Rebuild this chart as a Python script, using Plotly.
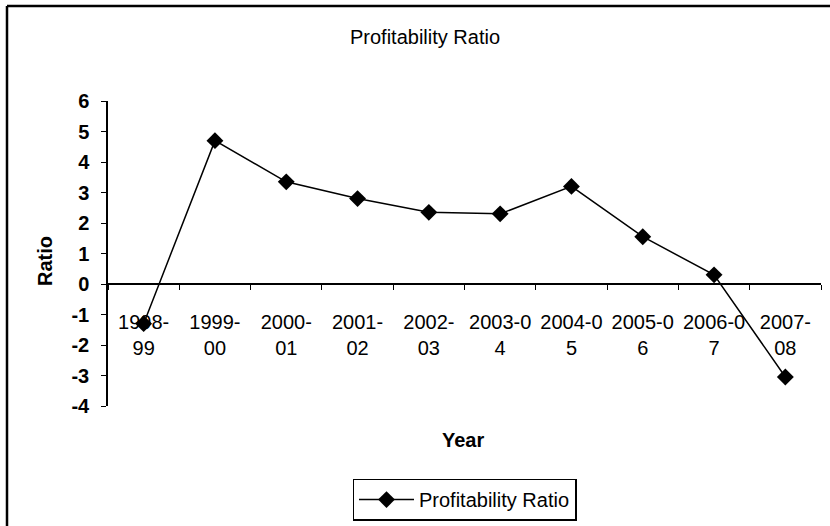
import plotly.graph_objects as go

# Financial years and the profitability ratio for each
years = ["1998-<br>99", "1999-<br>00", "2000-<br>01", "2001-<br>02", "2002-<br>03",
         "2003-0<br>4", "2004-0<br>5", "2005-0<br>6", "2006-0<br>7", "2007-<br>08"]
ratio = [-1.3, 4.7, 3.35, 2.8, 2.35, 2.3, 3.2, 1.55, 0.3, -3.05]
y_ticks = [-4, -3, -2, -1, 0, 1, 2, 3, 4, 5, 6]
y_tick_text = ["-4", "-3", "-2", "-1", "0", "1", "2", "3", "4", "5", "6"]

FONT = "Arial, Liberation Sans, sans-serif"
y_min, y_max = -4, 6

fig = go.Figure()
fig.add_trace(go.Scatter(
    x=years, y=ratio, mode="lines+markers", name="Profitability Ratio",
    line=dict(color="black", width=1.5),
    marker=dict(symbol="diamond", size=13, color="black"),
))

fig.update_layout(
    width=830, height=526,
    margin=dict(l=108, r=9, t=101, b=120, autoexpand=False),
    paper_bgcolor="white", plot_bgcolor="white",
    font=dict(family=FONT, color="black", size=20),
    title=dict(text="Profitability Ratio", x=0.4446, xref="paper", y=1 - 37 / 526,
               yref="container", xanchor="center", yanchor="middle",
               font=dict(family=FONT, size=20, color="black")),
    showlegend=True,
    legend=dict(x=0.5, xanchor="center", y=-0.238, yanchor="top",
                bordercolor="black", borderwidth=1.5, bgcolor="white",
                itemwidth=55,
                font=dict(family=FONT, size=20, color="black")),
    xaxis=dict(
        type="category", range=[-0.5, 9.5],
        anchor="free", position=(0 - y_min) / (y_max - y_min),
        showline=True, linecolor="black", linewidth=1.5,
        ticks="outside", tickson="boundaries", ticklen=5, tickcolor="black",
        ticklabelstandoff=20,
        showgrid=False, zeroline=False,
        tickfont=dict(family=FONT, size=20, color="black"),
        tickangle=0,
    ),
    yaxis=dict(
        range=[y_min, y_max], tickvals=y_ticks, ticktext=y_tick_text,
        showline=True, linecolor="black", linewidth=1.5,
        ticks="outside", ticklen=5, tickcolor="black", ticklabelstandoff=8,
        showgrid=False, zeroline=False,
        tickfont=dict(family=FONT, size=20, color="black", weight="bold"),
    ),
)

# Axis titles
fig.add_annotation(text="<b>Year</b>", x=0.498, y=(406 - 440) / 305, xref="paper", yref="paper",
                   showarrow=False, xanchor="center", yanchor="middle",
                   font=dict(family=FONT, size=20, color="black"))
fig.add_annotation(text="<b>Ratio</b>", x=(45 - 108) / 713, y=(406 - 261) / 305,
                   xref="paper", yref="paper", textangle=-90,
                   showarrow=False, xanchor="center", yanchor="middle",
                   font=dict(family=FONT, size=20, color="black"))

# Chart frame edges (left and top)
frame_left = (7 - 108) / 713
frame_top = (406 - 6) / 305
fig.add_shape(type="line", xref="paper", yref="paper",
              x0=frame_left, x1=frame_left, y0=(406 - 530) / 305, y1=frame_top,
              line=dict(color="black", width=2.5))
fig.add_shape(type="line", xref="paper", yref="paper",
              x0=frame_left, x1=(834 - 108) / 713, y0=frame_top, y1=frame_top,
              line=dict(color="black", width=2.5))

fig.write_html("out.html")
